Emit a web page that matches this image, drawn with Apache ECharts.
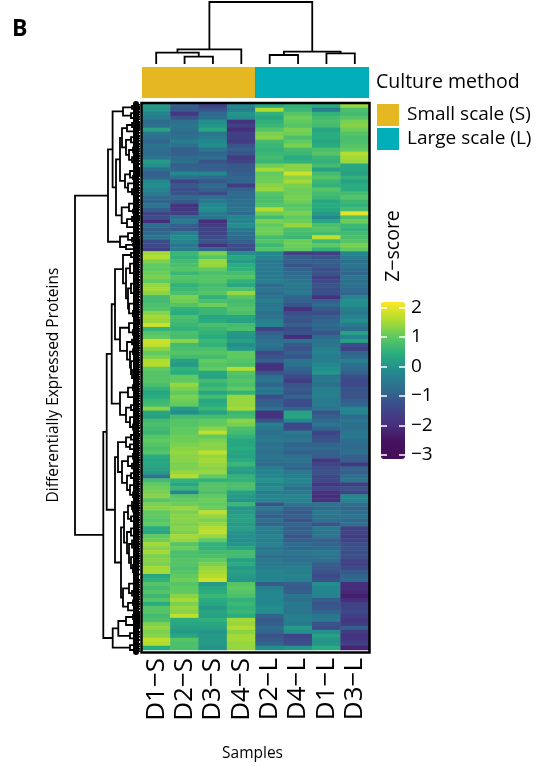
<!DOCTYPE html>
<html><head><meta charset="utf-8">
<style>html,body{margin:0;padding:0;background:#fff}#c{width:541px;height:767px}</style>
<script src="https://cdn.jsdelivr.net/npm/echarts@6/dist/echarts.min.js"></script>
</head><body><div id="c"></div>
<script>
const samples = ['D1−S','D2−S','D3−S','D4−S','D2−L','D4−L','D1−L','D3−L'];
const cultureS = [1,1,1,1,null,null,null,null];
const cultureL = [null,null,null,null,1,1,1,1];
const colorTicks = [-3,-2,-1,0,1,2];

const d1s = [0.1,0.0,-0.3,-0.4,-0.8,-0.7,0.2,-0.6,-0.7,-0.9,-0.6,-0.7,-0.8,-0.6,0.1,-0.1,-0.7,-1.0,-0.9,-0.2,-0.1,-0.3,-0.5,-0.8,-0.9,-0.6,-1.0,-1.5,-1.3,-2.0,-0.7,-1.0,-0.8,-0.6,-1.3,-1.4,-1.6,
1.5,1.6,1.2,1.0,1.0,1.1,1.2,1.0,1.4,1.5,1.3,0.7,0.7,0.8,0.9,1.3,1.5,1.4,1.8,0.5,0.9,1.0,1.8,1.7,1.3,1.0,1.2,1.6,1.6,1.0,0.9,0.9,0.9,0.8,0.5,0.3,
0.4,0.6,0.7,1.3,0.3,0.2,0.7,0.8,0.7,0.6,0.9,1.0,0.9,0.8,0.9,0.4,0.3,0.3,0.2,0.1,-0.6,0.7,1.0,1.1,1.2,1.3,0.9,1.2,1.3,1.0,1.0,0.9,1.0,0.4,0.3,
1.0,1.1,1.5,1.3,1.5,1.2,1.3,1.2,1.5,1.5,0.3,0.5,0.9,0.7,0.9,0.6,0.9,0.4,0.9,0.9,0.7,0.8,1.2,1.4,1.2,1.3,1.7,1.6,0.4];
const d2s = [-1.0,-1.1,-1.8,-1.2,-0.7,-0.6,-0.7,-0.8,-0.7,-0.4,-0.7,-1.0,-1.0,-0.8,-0.7,-1.0,-0.9,-0.2,-0.7,-1.5,-1.1,-1.3,-1.2,-0.8,-1.1,-1.9,-1.8,-1.6,-0.8,-0.5,-1.0,-1.1,-0.4,-0.1,-0.3,-0.6,-0.4,
0.6,0.5,0.7,0.8,0.9,0.6,0.9,0.8,0.5,0.6,0.8,1.2,1.1,0.9,0.5,0.4,0.8,0.7,0.6,0.5,0.8,0.7,1.3,0.7,0.8,0.9,0.7,0.2,0.1,0.5,0.4,1.0,1.0,1.4,1.2,1.0,
1.2,1.1,1.0,0.1,-0.1,0.7,0.9,0.9,1.0,1.0,1.1,1.1,1.2,1.3,1.4,1.3,1.3,1.2,1.2,1.4,1.6,0.5,0.3,0.6,-0.2,0.9,1.0,1.1,1.4,1.2,1.3,1.3,1.2,1.3,1.2,
1.5,1.4,0.9,1.1,0.8,0.8,0.9,0.9,0.8,0.9,1.0,1.1,0.9,1.0,1.0,1.3,1.5,1.2,1.4,1.3,1.7,0.4,0.3,0.2,0.1,0.3,0.9,0.8,0.8];
const d3s = [-1.5,-1.2,-0.8,-0.7,-0.1,0.0,0.3,-0.6,-0.4,-0.2,-0.1,-0.6,-0.9,-0.7,-1.2,-1.0,-1.0,-0.2,-0.8,-1.1,-0.8,-1.0,-1.4,-0.7,-0.5,-0.2,-0.1,-0.5,-0.6,-2.0,-1.7,-1.5,-1.5,-1.3,-1.2,-1.9,-0.9,
1.2,0.9,1.4,1.4,1.0,0.8,0.9,0.9,0.7,0.8,0.9,0.5,0.8,1.1,0.6,0.6,0.3,0.4,0.8,0.6,0.5,0.4,0.6,0.5,0.8,0.9,0.7,1.0,0.9,1.0,0.3,0.2,0.7,0.5,0.7,0.3,
0.7,0.3,0.4,0.6,0.2,0.7,1.0,1.0,1.3,1.7,1.0,1.2,1.3,1.3,1.7,1.4,1.5,1.4,1.3,1.4,1.0,0.5,0.9,0.9,0.8,1.0,1.1,1.0,1.1,1.7,1.4,1.2,1.4,1.6,1.7,
1.4,1.0,0.5,0.5,0.7,0.8,1.0,1.2,1.4,1.5,1.6,1.8,0.1,0.3,0.4,0.6,0.4,0.3,0.1,0.3,0.2,0.5,0.3,0.2,0.0,0.1,0.1,0.1,0.0];
const d4s = [-0.2,-0.4,0.0,-0.1,-1.9,-1.6,-2.0,-1.6,-1.6,-1.7,-1.2,-1.0,-1.2,-1.7,-1.5,-1.1,-1.1,-1.0,-0.9,-0.9,-1.7,-1.0,-0.8,-0.8,-0.7,-0.7,-0.6,-0.8,-0.3,-0.3,-0.1,-0.5,-0.7,-0.8,-1.0,-1.3,-1.3,
-0.1,0.3,0.1,0.4,0.5,0.7,0.9,0.5,0.3,0.8,1.4,0.9,0.7,0.8,0.9,0.8,0.3,0.2,0.7,0.8,0.1,0.0,0.2,-0.1,0.1,1.0,1.0,0.9,0.8,1.6,0.9,0.8,0.9,0.8,1.0,0.5,
1.4,1.4,1.4,1.5,0.6,0.7,1.3,1.2,0.8,0.7,0.5,0.3,0.3,0.4,0.3,0.2,0.4,0.6,0.2,0.1,0.5,0.5,0.8,0.8,0.2,0.1,0.0,0.6,0.0,0.1,0.2,0.2,0.1,0.2,0.0,
-0.1,-0.1,0.0,0.3,0.7,0.7,0.2,0.4,0.1,0.2,0.1,0.0,0.9,1.0,0.9,0.8,0.5,0.6,0.5,0.6,0.4,1.5,1.4,1.6,1.3,1.5,1.5,1.4,1.4];
const d2l = [0.3,1.6,0.5,0.3,0.5,0.6,0.9,1.2,1.3,0.7,0.6,0.5,0.6,0.7,0.6,1.1,1.5,1.0,1.1,1.1,1.3,1.4,0.9,0.8,0.8,0.9,1.6,1.1,0.7,1.2,1.0,1.1,1.1,0.7,0.9,0.6,0.9,
-0.2,-0.3,-0.6,-0.5,-0.5,-0.5,-0.5,-0.4,-0.8,-0.6,-0.8,-0.6,-0.4,-0.6,-0.5,-0.7,-0.6,-0.4,-0.3,-1.6,-1.0,-0.8,-0.7,-0.6,-0.8,-1.4,-1.2,-1.0,-1.9,-1.9,-1.2,-0.7,-0.6,-0.9,-0.5,-0.6,
-1.3,-1.0,-1.0,-0.7,-1.9,-1.9,-1.2,-0.4,-0.6,-0.7,-0.6,-0.5,-0.7,-0.6,-0.7,-0.6,-0.7,-0.8,-0.4,-0.3,-0.2,0.0,-0.3,-0.1,-0.4,-0.3,-0.2,-1.2,-0.5,-0.8,-1.0,-0.7,-0.9,-0.4,-0.5,
-0.3,-0.4,-0.3,-0.6,-0.5,-0.7,-0.6,-0.5,-0.4,-0.3,-0.3,-0.2,-1.1,-0.4,-0.3,-0.2,-0.3,-0.2,-0.1,-0.1,-0.9,-1.1,-1.0,-0.8,-0.9,-1.2,-1.1,-0.9,-0.1];
const d4l = [0.5,0.6,0.9,1.1,1.0,0.9,1.2,1.1,0.8,1.0,1.2,0.7,0.6,0.4,0.5,1.3,1.3,1.8,1.3,1.5,1.2,1.1,1.1,1.2,1.1,0.9,1.0,1.2,1.0,1.1,1.4,0.8,0.7,0.6,1.1,1.1,1.0,
-1.6,-1.0,-1.0,-1.2,-0.9,-0.8,-0.7,-0.6,-0.5,-0.6,-0.5,-0.9,-1.0,-1.2,-1.9,-1.3,-1.1,-1.2,-1.0,-1.3,-1.2,-2.0,-0.7,-1.1,-1.2,-1.0,-1.2,-0.6,-0.7,-0.9,-1.1,-1.4,-1.7,-1.2,-1.1,-1.2,
-0.9,-1.3,-1.4,-0.9,0.2,0.3,-0.2,-1.4,-1.4,-0.5,-0.7,-0.6,-0.9,-0.8,-1.0,-0.7,-0.6,-0.8,-0.9,-0.5,-0.4,-0.2,-0.4,-0.7,-0.5,-0.3,-0.3,-0.6,-1.0,-1.1,-1.0,-1.2,-0.9,-1.0,-0.9,
-1.2,-1.0,-0.8,-0.8,-0.6,-0.7,-0.7,-0.6,-0.4,-0.4,-0.3,-0.4,-1.0,-1.1,-1.0,-0.6,-0.7,-0.5,-0.6,-0.6,-0.4,-0.4,-0.5,0.1,-0.1,-1.5,-1.4,-1.3,0.0];
const d1l = [0.4,-0.4,0.5,0.7,0.8,0.7,0.3,0.4,0.4,0.3,0.4,0.8,0.9,0.6,0.5,0.7,0.2,0.7,0.9,0.6,0.5,0.9,0.7,0.6,0.3,0.4,0.3,0.1,-0.2,0.3,0.8,0.9,0.7,1.7,0.6,1.0,0.5,
-1.6,-1.2,-1.0,-1.1,-1.3,-1.2,-1.6,-1.4,-1.2,-1.3,-1.3,-1.9,-1.0,-0.8,-1.1,-1.3,-1.0,-0.9,-0.8,-0.9,-1.2,-0.8,-0.6,-0.6,-0.4,-0.3,-0.5,-0.4,-0.2,-0.1,0.0,-0.6,-0.5,-0.7,-0.4,-0.4,
-0.4,-0.5,-0.5,-0.6,-1.2,-1.0,-0.8,-0.6,-0.9,-1.5,-1.3,-1.2,-0.9,-0.8,-1.0,-1.0,-1.8,-1.5,-1.3,-1.2,-1.4,-1.4,-1.8,-1.4,-1.9,-2.0,-1.9,-0.6,-0.8,-0.5,-0.6,-0.7,-1.2,-0.5,-0.6,
-0.6,-1.0,-0.9,-0.8,-0.5,-0.6,-0.7,-1.0,-1.1,-1.2,-1.4,-1.2,-0.1,-0.2,-0.3,-0.3,-1.0,-1.2,-1.1,-0.9,-0.6,-0.5,-1.2,-1.3,-0.1,0.2,0.0,0.0,0.4];
const d3l = [1.4,0.8,0.7,0.9,1.2,1.3,1.1,0.9,0.8,0.8,0.9,1.0,1.6,1.5,1.4,0.3,0.3,0.2,0.5,0.2,0.4,0.4,0.7,0.9,0.6,0.5,0.7,2.0,0.8,1.1,0.6,0.5,0.7,0.8,0.9,1.2,1.0,
-0.2,-0.5,-0.7,-0.6,-0.8,-0.9,-0.6,-0.7,-0.7,-0.8,-0.9,-0.3,-0.1,-0.1,-0.4,-0.5,-0.3,-0.1,-0.5,-0.8,0.2,-0.3,0.2,-1.3,-1.6,-0.9,-0.8,-0.4,-0.7,-0.8,-1.0,-1.3,-1.4,-1.4,-1.2,-1.2,
-1.2,-1.0,-0.9,-0.2,-0.3,-0.8,-0.6,-0.7,-0.7,-0.6,-0.5,-0.7,-0.8,-0.8,-0.7,-1.0,-1.0,-1.8,-0.9,-1.0,-0.7,-0.6,-1.7,-1.2,-1.5,-0.2,-0.3,-0.7,-0.9,-0.7,-0.6,-0.8,-0.7,-1.6,-1.5,
-1.7,-1.5,-1.3,-1.2,-1.3,-1.2,-1.5,-1.6,-1.4,-1.1,-0.9,-0.8,-2.0,-2.0,-2.1,-2.3,-2.0,-1.6,-1.5,-1.4,-1.6,-1.8,-1.7,-1.0,-1.7,-1.9,-1.8,-1.6,-2.2];

const columns = [d1s,d2s,d3s,d4s,d2l,d4l,d1l,d3l];
const rowCount = d1s.length;
const rowLabels = d1s.map((_, i) => String(i));

// Dendrograms: [merge height, upper child, lower child]; a plain number is a leaf position.
const colTree = [62,[14.7,[11.3,0.5,[7.3,1.5,2.5]],3.5],[12.3,[9,4.5,5.5],[10.7,6.5,7.5]]];

const t1 = [17,[8,[3,0.2,0.7],[4,1,1.4]],[9,[5,2,2.6],[3,3.2,3.8]]];
const t2t = [18,[13,[8,[4,4.5,5],[3,5.5,6]],[6,6.5,7.2]],[14,[9,[4,8,8.6],[6,9.2,10]],[11,[7,[3,10.6,11.2],[2,11.8,12.4]],[8,[4,13,13.6],[5,14.2,15]]]]];
const t2b = [15,[10,[5,[3,16,16.5],[2,17,17.5]],[7,18,18.8]],[12,[6,19.5,20.2],[8,[4,21,21.6],[5,22.2,23]]]];
const t3 = [18.3,[11,[6,[3,24,24.6],[2,25.2,25.8]],[7,26.4,27.2]],[13,[8,[4,28,28.5],[5,29,29.6]],[6,30.4,31.2]]];
const a2 = [20,[12,[6,32,32.6],[8,[3,33.2,33.8],[4,34.2,34.6]]],[14,[7,35,35.4],[5,[2,35.8,36.2],36.6]]];
const clusterA = [32,[27.4,t1,[24,[20,t2t,t2b],t3]],a2];

const n1a1 = [17,[9,[4,37,37.4],[5,38,38.6]],[14,[10,[6,[3,39,39.6],[4,40.2,40.8]],[5,[3,41.4,42],[2,42.6,43.2]]],[12,[9,[5,[3,44,44.6],[2,45.2,45.8]],[6,[3,46.4,47],[4,47.6,48.2]]],[11,[5,[3,49,49.6],[2,50.2,50.8]],[7,[4,51.4,52],[3,52.6,53.4]]]]]];
const n1a2 = [20,[11,[6,[3,54,54.5],[2,55,55.6]],[7,[3,56.2,56.8],[4,57.4,58]]],[13,[8,[4,58.6,59.2],[3,59.8,60.4]],[10,[7,[4,61,61.6],[3,62.2,62.8]],[9,[5,[3,63.4,64],[2,64.6,65.2]],[8,[4,[2,65.8,66.4],67],[6,[3,67.6,68.2],[4,68.8,69.4]]]]]]];
const n1b = [20,[12,[7,[3,70,70.6],[4,71.2,71.8]],[6,[2,72.4,73],[3,73.6,74.2]]],[14,[9,[5,75,75.6],[3,76.2,76.8]],[10,[6,[2,77.4,78],[4,78.6,79.2]],[7,[3,79.8,80.4],[5,81,81.8]]]]];
const n2at = [14,[9,[5,82.5,83],[3,83.6,84.2]],[10,[6,84.8,85.4],[4,86,86.6]]];
const n2ab = [18,[12,[7,[3,87.2,87.8],[4,88.4,89]],[8,[3,89.6,90.2],[5,90.8,91.4]]],[13,[9,[5,92,92.6],[3,93.2,93.8]],[10,[6,[2,94.4,95],[3,95.6,96.2]],[7,[4,96.8,97.4],[2,98,98.6]]]]];
const n2bt = [16,[12,[8,[4,99.2,99.8],[7,[3,100.4,101],[2,101.6,102.2]]],[9,[5,102.8,103.4],[6,104,104.6]]],[13,[9,[4,[2,105.2,105.8],[3,106.4,107]],[6,107.6,108.2]],[11,[8,[4,108.8,109.4],[6,[3,110,110.6],[2,111.2,111.8]]],[9,[5,[3,112.4,113],[2,113.6,114.2]],[7,[4,114.8,115.6],[3,116.4,117.6]]]]]];
const n2bb = [17,[11,[6,[3,119,119.6],[2,120.2,120.8]],[8,[4,121.4,122],[3,122.6,123.2]]],[12,[7,[3,123.8,124.4],[4,125,125.6]],[5,126.2,127]]];
const clusterBb = [27.3,[21.7,[14,[7,[3,127.5,128],[4,128.5,129]],[6,[2,129.5,130],[3,130.5,131]]],[10,[6,132,132.6],[5,133.2,134]]],[10,[5,135,135.6],[4,136.2,136.8]]];
const clusterB = [36.7,[33.3,[28.3,[25,n1a1,n1a2],n1b],[25,[22,n2at,n2ab],[19,n2bt,n2bb]]],clusterBb];
const rowTree = [65,clusterA,clusterB];

function flatten(node, out) {
  if (typeof node === 'number') return { pos: node, h: 0 };
  const a = flatten(node[1], out), b = flatten(node[2], out);
  out.push([node[0], a.pos, b.pos, a.h, b.h]);
  return { pos: (a.pos + b.pos) / 2, h: node[0] };
}
const colBrackets = []; flatten(colTree, colBrackets);
const rowBrackets = []; flatten(rowTree, rowBrackets);

const heatData = [];
columns.forEach((col, c) => col.forEach((v, r) => heatData.push([c, r, v])));

const FONT = '"Open Sans", sans-serif';
const GOLD = '#E5B720', TEAL = '#00AEB9';

function bracket(horizontal, width) {
  return (params, api) => {
    const h = api.value(0), a = api.value(1), b = api.value(2), ha = api.value(3), hb = api.value(4);
    const p = horizontal
      ? [[ha, a], [h, a], [h, b], [hb, b]]
      : [[a, ha], [a, h], [b, h], [b, hb]];
    return { type: 'polyline', shape: { points: p.map(q => api.coord(q)) },
             style: { stroke: '#000', fill: null, lineWidth: width, lineJoin: 'miter' } };
  };
}
const off = { show: false };

const chart = echarts.init(document.getElementById('c'), null, { renderer: 'canvas' });
chart.setOption({
  animation: false,
  backgroundColor: '#fff',
  textStyle: { fontFamily: FONT },
  title: { text: 'B', left: 7, top: 13, textStyle: { fontFamily: FONT, fontWeight: 'bold', fontSize: 23, color: '#000' } },
  grid: [
    { left: 142, top: 104, width: 227, height: 548 },
    { left: 142, top: 67, width: 227, height: 31 },
    { left: 142, top: 2, width: 227, height: 62 },
    { left: 75, top: 104, width: 65, height: 548 },
    { left: 381, top: 307.5, width: 24, height: 147.3 }
  ],
  xAxis: [
    { gridIndex: 0, type: 'category', data: samples, axisLine: off, axisTick: off,
      axisLabel: { rotate: 90, fontSize: 26, color: '#000', margin: 8, fontFamily: FONT, interval: 0 },
      name: 'Samples', nameLocation: 'middle', nameGap: 96,
      nameTextStyle: { fontSize: 15.5, color: '#000', fontFamily: FONT, padding: [0, 6, 0, 0] } },
    { gridIndex: 1, type: 'category', data: samples, show: false },
    { gridIndex: 2, type: 'value', min: 0, max: 8, show: false },
    { gridIndex: 3, type: 'value', min: 0, max: 65, inverse: true, show: false },
    { gridIndex: 4, type: 'value', min: 0, max: 1, show: false }
  ],
  yAxis: [
    { gridIndex: 0, type: 'category', data: rowLabels, inverse: true, axisLine: off, axisTick: off, axisLabel: off,
      name: 'Differentially Expressed Proteins', nameLocation: 'middle', nameRotate: 90, nameGap: 80,
      nameTextStyle: { fontSize: 15.5, color: '#000', fontFamily: FONT, padding: [0, 16, 0, 0] } },
    { gridIndex: 1, type: 'value', min: 0, max: 1, show: false },
    { gridIndex: 2, type: 'value', min: 0, max: 62, show: false },
    { gridIndex: 3, type: 'value', min: 0, max: rowCount, inverse: true, position: 'right', offset: -4,
      axisLine: { show: true, onZero: false, lineStyle: { color: '#000', width: 6 } },
      axisTick: off, axisLabel: off, splitLine: off },
    { gridIndex: 4, type: 'value', min: colorTicks[0], max: colorTicks[colorTicks.length - 1], interval: 1, position: 'right',
      axisLine: off, axisTick: off,
      axisLabel: { fontSize: 19, color: '#000', margin: 6, fontFamily: FONT, align: 'left',
                   formatter: v => String(v).replace('-', '−') },
      splitLine: { show: true, lineStyle: { color: '#fff', width: 1.5, type: [6, 12, 6] } }, z: 6 }
  ],
  visualMap: {
    type: 'continuous', seriesIndex: 0, min: -3.15, max: 2.18, calculable: false, hoverLink: false,
    left: 381, top: 302, itemWidth: 24, itemHeight: 157, padding: 0, z: 1,
    inRange: { color: ['#440f57','#451260','#46307e','#3e4a89','#2f6c8e','#23898e','#29ac7f','#5ec962','#b0dd2f','#fde725'] }
  },
  legend: {
    orient: 'vertical', left: 377, top: 104, padding: 0, itemWidth: 22, itemHeight: 22, itemGap: 2,
    icon: 'rect', selectedMode: false, data: ['Small scale (S)', 'Large scale (L)'],
    textStyle: { fontSize: 19, color: '#000', fontFamily: FONT, padding: [0, 0, 0, 3] }
  },
  graphic: [
    { type: 'text', left: 376, top: 72, style: { text: 'Culture method', font: '19.5px ' + FONT, fill: '#000' } },
    { type: 'text', x: 393, y: 246, rotation: Math.PI / 2,
      style: { text: 'Z−score', font: '19.5px ' + FONT, fill: '#000', align: 'center', verticalAlign: 'middle' } },
    { type: 'rect', shape: { x: 141.5, y: 103, width: 228, height: 549.5 }, z: 100,
      style: { fill: null, stroke: '#000', lineWidth: 2.5 } }
  ],
  series: [
    { type: 'heatmap', xAxisIndex: 0, yAxisIndex: 0, data: heatData, progressive: 0, itemStyle: { borderWidth: 0 }, emphasis: { disabled: true } },
    { type: 'bar', name: 'Small scale (S)', xAxisIndex: 1, yAxisIndex: 1, stack: 'c', barWidth: 29.5, data: cultureS, itemStyle: { color: GOLD } },
    { type: 'bar', name: 'Large scale (L)', xAxisIndex: 1, yAxisIndex: 1, stack: 'c', barWidth: 29.5, data: cultureL, itemStyle: { color: TEAL } },
    { type: 'custom', xAxisIndex: 2, yAxisIndex: 2, data: colBrackets, renderItem: bracket(false, 1.8), clip: false, silent: true },
    { type: 'custom', xAxisIndex: 3, yAxisIndex: 3, data: rowBrackets, renderItem: bracket(true, 1.8), clip: false, silent: true }
  ]
});
</script></body></html>
